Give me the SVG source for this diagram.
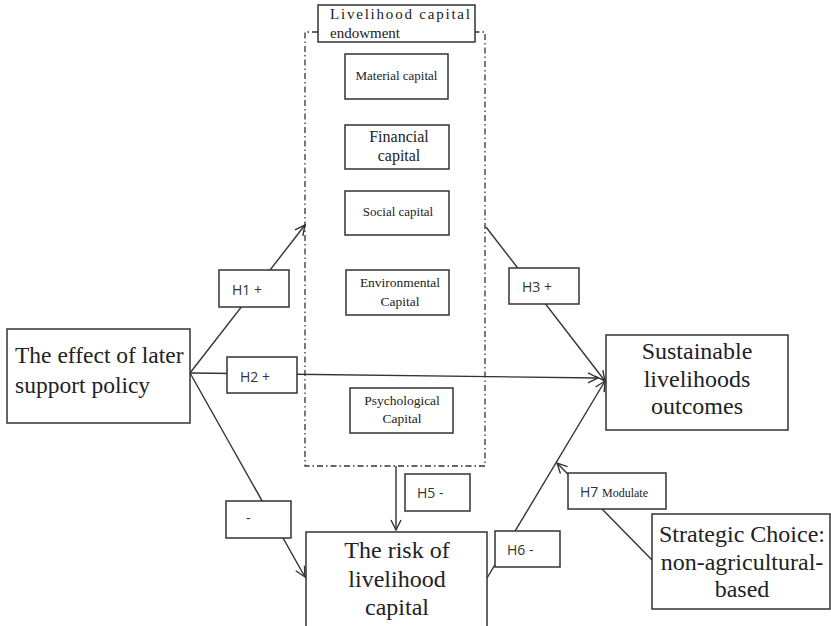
<svg xmlns="http://www.w3.org/2000/svg" width="831" height="626" viewBox="0 0 831 626">
<defs>
<marker id="arr" viewBox="0 0 12 12" refX="11" refY="6" markerWidth="12" markerHeight="12" markerUnits="userSpaceOnUse" orient="auto">
<path d="M1,1 L11,6 L1,11" fill="none" stroke="#333" stroke-width="1.4"/>
</marker>
<style>
.box{fill:#fff;stroke:#333;stroke-width:1.5}
.ln{fill:none;stroke:#333;stroke-width:1.4}
.serif{font-family:"Liberation Serif","Times New Roman",serif;fill:#222}
.sans{font-family:"Open Sans","Liberation Sans",sans-serif;fill:#333}
.dash{fill:none;stroke:#333;stroke-width:1.3;stroke-dasharray:6 3 1.5 3}
</style>
</defs>
<rect width="831" height="626" fill="#fff"/>

<g id="connectors">
<line class="ln" x1="190" y1="373" x2="305" y2="225" marker-end="url(#arr)"/>
<line class="ln" x1="190" y1="373" x2="598" y2="378" marker-end="url(#arr)"/>
<line class="ln" x1="190" y1="373" x2="305" y2="577" marker-end="url(#arr)"/>
<line class="ln" x1="486" y1="227" x2="605" y2="381" marker-end="url(#arr)"/>
<line class="ln" x1="396" y1="466" x2="396" y2="530" marker-end="url(#arr)"/>
<line class="ln" x1="487" y1="578" x2="605" y2="381" marker-end="url(#arr)"/>
<line class="ln" x1="652" y1="560" x2="557" y2="463" marker-end="url(#arr)"/>
</g>

<g id="endowment">
<path class="dash" d="M318,32 L305,32 L305,466 L485,466 L485,32 L475,32"/>
<rect class="box" x="318" y="5" width="157" height="37"/>
<text class="serif" font-size="15" x="330" y="19" textLength="140" lengthAdjust="spacing">Livelihood capital</text>
<text class="serif" font-size="15" x="330" y="38">endowment</text>
</g>

<g id="material">
<rect class="box" x="345" y="54" width="103" height="45"/>
<text class="serif" font-size="13" x="396.5" y="80" text-anchor="middle">Material capital</text>
</g>

<g id="financial">
<rect class="box" x="345" y="125" width="104" height="44"/>
<text class="serif" font-size="16" x="399" y="142" text-anchor="middle">Financial</text>
<text class="serif" font-size="16" x="399" y="161" text-anchor="middle">capital</text>
</g>

<g id="social">
<rect class="box" x="345" y="191" width="104" height="44"/>
<text class="serif" font-size="13" x="398" y="216" text-anchor="middle">Social capital</text>
</g>

<g id="environmental">
<rect class="box" x="346" y="270" width="103" height="45"/>
<text class="serif" font-size="13.5" x="400" y="287" text-anchor="middle">Environmental</text>
<text class="serif" font-size="13.5" x="400" y="306" text-anchor="middle">Capital</text>
</g>

<g id="psychological">
<rect class="box" x="350" y="388" width="103" height="45"/>
<text class="serif" font-size="13.5" x="402" y="405" text-anchor="middle">Psychological</text>
<text class="serif" font-size="13.5" x="402" y="423" text-anchor="middle">Capital</text>
</g>

<g id="policy">
<rect class="box" x="7" y="329" width="183" height="94"/>
<text class="serif" font-size="23.5" x="15" y="363">The effect of later</text>
<text class="serif" font-size="23.5" x="15" y="393">support policy</text>
</g>

<g id="risk">
<rect class="box" x="306" y="532" width="181" height="100"/>
<text class="serif" font-size="24" x="397" y="558" text-anchor="middle">The risk of</text>
<text class="serif" font-size="24" x="397" y="587" text-anchor="middle">livelihood</text>
<text class="serif" font-size="24" x="397" y="615" text-anchor="middle">capital</text>
</g>

<g id="sustainable">
<rect class="box" x="606" y="335" width="182" height="95"/>
<text class="serif" font-size="24" x="697" y="359" text-anchor="middle">Sustainable</text>
<text class="serif" font-size="24" x="697" y="387" text-anchor="middle">livelihoods</text>
<text class="serif" font-size="24" x="697" y="414" text-anchor="middle">outcomes</text>
</g>

<g id="strategic">
<rect class="box" x="652" y="514" width="178" height="95"/>
<text class="serif" font-size="24" x="742" y="542" text-anchor="middle">Strategic Choice:</text>
<text class="serif" font-size="24" x="742" y="570" text-anchor="middle">non-agricultural-</text>
<text class="serif" font-size="24" x="742" y="597" text-anchor="middle">based</text>
</g>

<g id="h1">
<rect class="box" x="219" y="270" width="70" height="37"/>
<text class="sans" font-size="14" x="232" y="295">H1 +</text>
</g>
<g id="h2">
<rect class="box" x="227" y="357" width="70" height="36"/>
<text class="sans" font-size="14" x="240" y="382">H2 +</text>
</g>
<g id="hminus">
<rect class="box" x="226" y="501" width="65" height="37"/>
<text class="sans" font-size="14" x="246" y="523">-</text>
</g>
<g id="h3">
<rect class="box" x="509" y="268" width="70" height="36"/>
<text class="sans" font-size="14" x="522" y="292">H3 +</text>
</g>
<g id="h5">
<rect class="box" x="405" y="474" width="65" height="37"/>
<text class="sans" font-size="14" x="417" y="498">H5 -</text>
</g>
<g id="h6">
<rect class="box" x="495" y="531" width="65" height="36"/>
<text class="sans" font-size="14" x="507" y="555">H6 -</text>
</g>
<g id="h7">
<rect class="box" x="568" y="473" width="98" height="36"/>
<text x="580" y="497"><tspan class="sans" font-size="14">H7 </tspan><tspan class="serif" font-size="12">Modulate</tspan></text>
</g>
</svg>
